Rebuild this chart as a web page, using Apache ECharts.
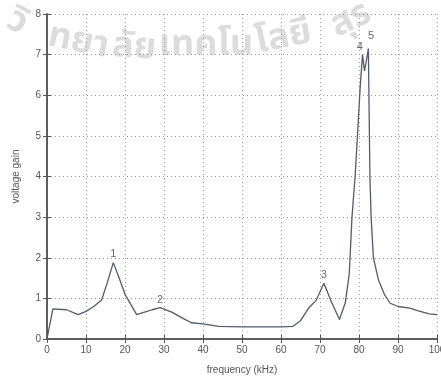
<!DOCTYPE html>
<html>
<head>
<meta charset="utf-8">
<script src="https://cdn.jsdelivr.net/npm/echarts@6/dist/echarts.min.js"></script>
<style>
  html, body { margin: 0; padding: 0; background: #fff; }
  #chart { width: 441px; height: 380px; }
</style>
</head>
<body>
<div id="chart"></div>
<script>
// frequency (kHz) and voltage gain
const freq = [0, 1.5, 5, 8, 10, 12, 14, 15.5, 17, 18.5, 20, 23, 25, 27, 29, 32, 35, 37, 40, 44, 50, 55, 60, 63, 65, 67, 69, 71, 73, 75, 76.5, 77.5, 78.2, 79, 79.6, 80.3, 80.9, 81.4, 81.8, 82.4, 82.8, 83.1, 83.7, 85, 86.5, 88, 90, 93, 95, 98, 100];
const gain = [0, 0.74, 0.72, 0.6, 0.68, 0.8, 0.96, 1.4, 1.88, 1.5, 1.1, 0.6, 0.66, 0.72, 0.77, 0.66, 0.5, 0.4, 0.37, 0.31, 0.3, 0.3, 0.3, 0.31, 0.45, 0.75, 0.95, 1.37, 0.9, 0.48, 0.9, 1.6, 3.0, 4.0, 5.0, 6.2, 7.0, 6.6, 6.8, 7.15, 4.0, 3.0, 2.0, 1.45, 1.1, 0.88, 0.8, 0.76, 0.7, 0.62, 0.6];

// peak numbers
const peakNames = ['1', '2', '3', '4', '5'];
const peakX = [17, 29, 71, 80.2, 83.1];
const peakY = [2.1, 0.95, 1.58, 7.2, 7.45];

const xTicks = [0, 10, 20, 30, 40, 50, 60, 70, 80, 90, 100];
const yTicks = [0, 1, 2, 3, 4, 5, 6, 7, 8];

// watermark pieces laid along an arc
const wmText = ['วิ', 'ทยา', 'ลัย', 'เทคโน', 'โลยี', 'สุร'];
const wmPos = [[16, 24, -0.5], [78, 44, -0.2], [134, 50, -0.06], [206, 48, 0], [284, 40, 0.2], [352, 22, 0.45]];

const chart = echarts.init(document.getElementById('chart'));

const tickFont = { color: '#555', fontSize: 10, fontFamily: 'Liberation Sans, Arial, sans-serif' };
const gridLine = { show: true, lineStyle: { color: '#999', type: [1, 3], width: 1 } };

const option = {
  animation: false,
  grid: { left: 47, right: 4, top: 14, bottom: 41, outerBoundsMode: 'none' },
  graphic: wmText.map((t, i) => ({
    type: 'text',
    x: wmPos[i][0], y: wmPos[i][1],
    rotation: wmPos[i][2],
    style: {
      text: t,
      fontSize: 36,
      fontWeight: 'bold',
      align: 'center',
      verticalAlign: 'middle',
      fill: 'rgba(130,130,130,0.28)',
      fontFamily: 'Noto Sans Thai, Noto Sans, DejaVu Sans, sans-serif'
    },
    z: 100
  })),
  xAxis: [{
    type: 'value',
    min: 0, max: 100, interval: 10,
    name: 'frequency (kHz)',
    nameLocation: 'middle',
    nameGap: 26,
    nameTextStyle: { color: '#555', fontSize: 10, fontFamily: 'Liberation Sans, Arial, sans-serif' },
    axisLine: { show: true, onZero: false, lineStyle: { color: '#555', width: 1.5 } },
    axisTick: { show: true, inside: true, length: 4, lineStyle: { color: '#555' } },
    axisLabel: Object.assign({ margin: 6, formatter: v => xTicks.includes(v) ? String(v) : '' }, tickFont),
    splitLine: gridLine
  }, {
    type: 'value', position: 'top',
    min: 0, max: 100, interval: 10,
    axisLine: { show: true, lineStyle: { color: '#555', width: 1.5 } },
    axisTick: { show: true, inside: true, length: 4, lineStyle: { color: '#555' } },
    axisLabel: { show: false },
    splitLine: { show: false }
  }],
  yAxis: [{
    type: 'value',
    min: 0, max: 8, interval: 1,
    name: 'voltage gain',
    nameLocation: 'middle',
    nameGap: 26,
    nameTextStyle: { color: '#555', fontSize: 10, fontFamily: 'Liberation Sans, Arial, sans-serif' },
    axisLine: { show: true, onZero: false, lineStyle: { color: '#555', width: 1.5 } },
    axisTick: { show: true, inside: true, length: 4, lineStyle: { color: '#555' } },
    axisLabel: Object.assign({ margin: 6, formatter: v => yTicks.includes(v) ? String(v) : '' }, tickFont),
    splitLine: gridLine
  }, {
    type: 'value', position: 'right',
    min: 0, max: 8, interval: 1,
    axisLine: { show: true, lineStyle: { color: '#555', width: 1.5 } },
    axisTick: { show: true, inside: true, length: 4, lineStyle: { color: '#555' } },
    axisLabel: { show: false },
    splitLine: { show: false }
  }],
  series: [{
    type: 'line',
    data: freq.map((f, i) => [f, gain[i]]),
    showSymbol: false,
    lineStyle: { color: '#555a6a', width: 1.3 },
    z: 3
  }, {
    type: 'scatter',
    data: peakX.map((x, i) => ({ value: [x, peakY[i]], name: peakNames[i] })),
    symbolSize: 0,
    label: {
      show: true,
      position: 'inside',
      formatter: p => p.name,
      color: '#444',
      fontSize: 11,
      fontFamily: 'Liberation Sans, Arial, sans-serif'
    },
    z: 4
  }]
};

chart.setOption(option);
</script>
</body>
</html>
